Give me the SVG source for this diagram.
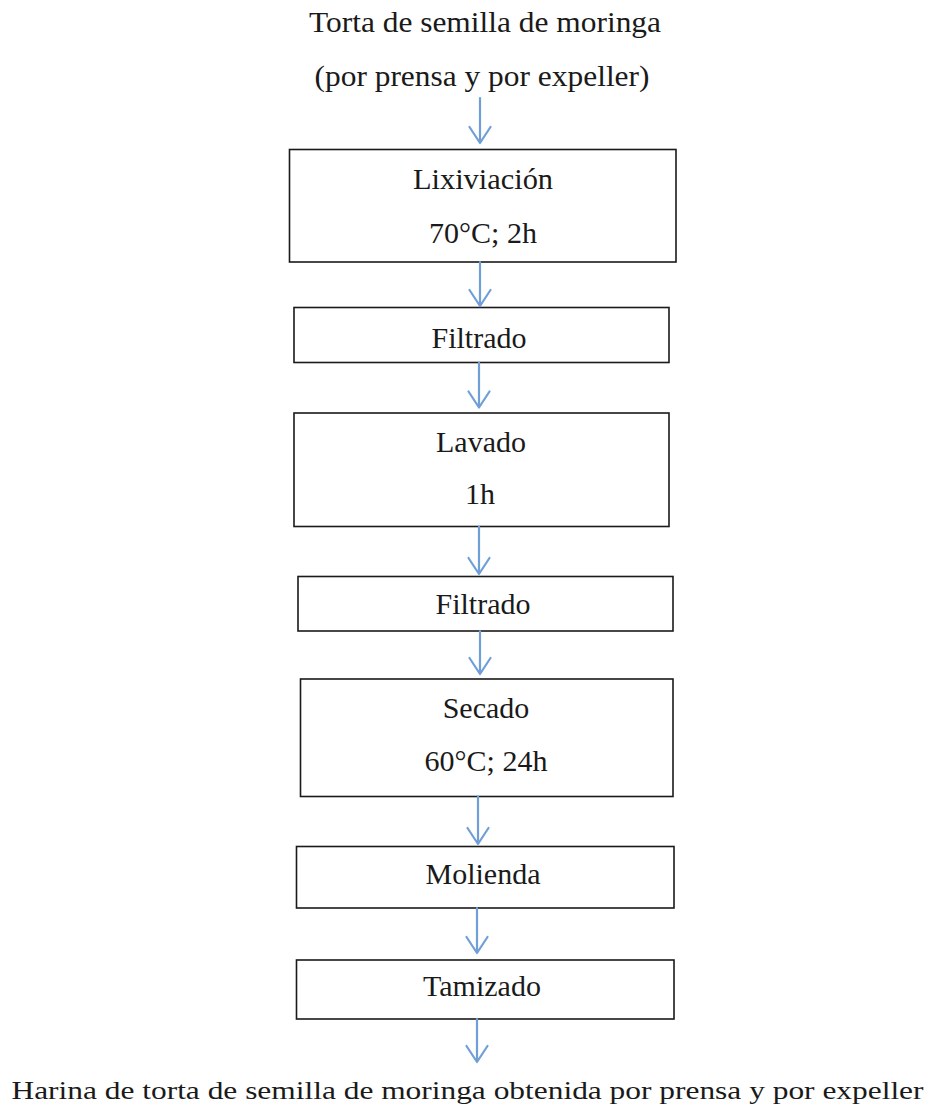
<svg xmlns="http://www.w3.org/2000/svg" width="930" height="1110" viewBox="0 0 930 1110">
  <style>
    .bg { fill: #ffffff; }
    .box { fill: #ffffff; stroke: #1a1a1a; stroke-width: 1.6; }
    .t { font-family: "Liberation Serif", "Times New Roman", serif; font-size: 30px; fill: #1a1a1a; text-anchor: middle; }
    .flow { fill: none; stroke: #6f9fd6; stroke-width: 2.2; stroke-linecap: round; stroke-linejoin: round; }
  </style>
  <rect class="bg" x="0" y="0" width="930" height="1110"/>

  <!-- input material -->
  <g id="input">
    <text class="t" x="485" y="32" textLength="352" lengthAdjust="spacingAndGlyphs">Torta de semilla de moringa</text>
    <text class="t" x="482" y="86" textLength="335" lengthAdjust="spacingAndGlyphs">(por prensa y por expeller)</text>
  </g>

  <g id="lixiviacion">
    <rect class="box" x="289.5" y="149.5" width="386.5" height="112.5"/>
    <text class="t" x="483" y="189" textLength="140" lengthAdjust="spacingAndGlyphs">Lixiviación</text>
    <text class="t" x="483" y="243">70°C; 2h</text>
  </g>

  <g id="filtrado1">
    <rect class="box" x="294" y="307.5" width="375" height="55"/>
    <text class="t" x="479" y="348">Filtrado</text>
  </g>

  <g id="lavado">
    <rect class="box" x="294" y="413" width="375" height="113.5"/>
    <text class="t" x="481" y="452">Lavado</text>
    <text class="t" x="480" y="504">1h</text>
  </g>

  <g id="filtrado2">
    <rect class="box" x="298" y="576.5" width="375" height="54.5"/>
    <text class="t" x="483" y="614">Filtrado</text>
  </g>

  <g id="secado">
    <rect class="box" x="300.5" y="679" width="372.5" height="117.5"/>
    <text class="t" x="486" y="718">Secado</text>
    <text class="t" x="486" y="771">60°C; 24h</text>
  </g>

  <g id="molienda">
    <rect class="box" x="296.5" y="846.5" width="377.5" height="61.5"/>
    <text class="t" x="483" y="884">Molienda</text>
  </g>

  <g id="tamizado">
    <rect class="box" x="296.5" y="960" width="377.5" height="59"/>
    <text class="t" x="482" y="996">Tamizado</text>
  </g>

  <!-- final product -->
  <g id="output">
    <text class="t" x="467.5" y="1099" style="font-size:25px" textLength="912" lengthAdjust="spacingAndGlyphs">Harina de torta de semilla de moringa obtenida por prensa y por expeller</text>
  </g>

  <!-- process flow arrows (open V heads) -->
  <g id="connectors" class="flow">
    <path d="M480 98 V143 M469.5 127 L480 143 L490.5 127"/>
    <path d="M480 262 V306 M469.5 290 L480 306 L490.5 290"/>
    <path d="M479 362.5 V407.5 M468.5 391.5 L479 407.5 L489.5 391.5"/>
    <path d="M479 526.5 V574 M468.5 558 L479 574 L489.5 558"/>
    <path d="M480 631 V674 M469.5 658 L480 674 L490.5 658"/>
    <path d="M478 796.5 V844 M467.5 828 L478 844 L488.5 828"/>
    <path d="M477 908 V953 M466.5 937 L477 953 L487.5 937"/>
    <path d="M477 1019 V1062 M466.5 1046 L477 1062 L487.5 1046"/>
  </g>
</svg>
